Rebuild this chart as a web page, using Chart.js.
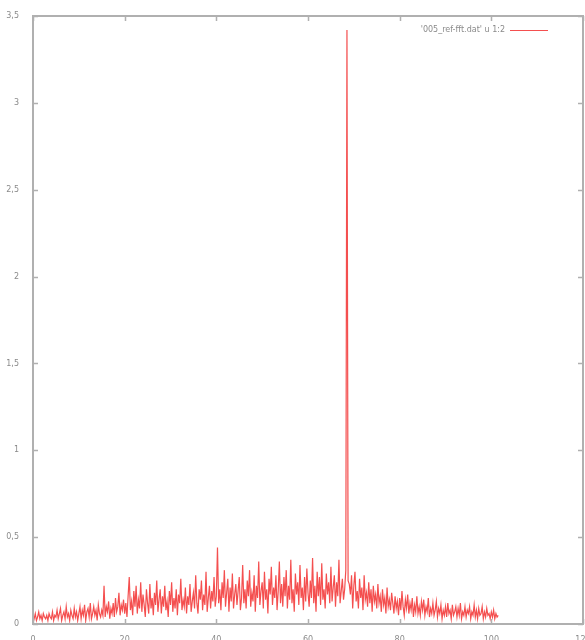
<!DOCTYPE html>
<html>
<head>
<meta charset="utf-8">
<script src="https://cdn.jsdelivr.net/npm/chart.js@4/dist/chart.umd.min.js"></script>
<style>
  html, body { margin: 0; padding: 0; background: #fff; }
  #wrap { width: 585px; height: 640px; }
</style>
</head>
<body>
<div id="wrap"><canvas id="plot" width="585" height="640"></canvas></div>
<script>
const SERIES_LABEL = "'005_ref-fft.dat' u 1:2";
const X_START = 0;
const X_STEP = 0.25;
const X_TICKS = [0, 20, 40, 60, 80, 100, 120];
const Y_TICKS = ['0', '0,5', '1', '1,5', '2', '2,5', '3', '3,5'];

// one row per 5 units of x
const Y_VALUES = [
  0.05,0.03,0.06,0.02,0.04,0.07,0.03,0.05,0.02,0.06,0.04,0.03,0.05,0.02,0.06,0.04,0.03,0.07,0.02,0.05,
  0.04,0.08,0.03,0.06,0.09,0.02,0.05,0.07,0.03,0.1,0.04,0.06,0.02,0.08,0.05,0.03,0.09,0.04,0.07,0.02,
  0.06,0.1,0.03,0.08,0.05,0.11,0.02,0.07,0.09,0.04,0.12,0.03,0.06,0.1,0.05,0.08,0.02,0.11,0.06,0.04,
  0.08,0.05,0.22,0.04,0.1,0.07,0.13,0.03,0.09,0.06,0.12,0.04,0.15,0.07,0.1,0.18,0.05,0.11,0.08,0.14,
  0.06,0.12,0.04,0.16,0.27,0.08,0.13,0.05,0.19,0.1,0.22,0.06,0.14,0.09,0.24,0.07,0.17,0.11,0.04,0.2,
  0.12,0.06,0.23,0.09,0.15,0.05,0.18,0.11,0.25,0.07,0.14,0.2,0.06,0.16,0.1,0.22,0.08,0.13,0.04,0.19,
  0.11,0.24,0.07,0.15,0.09,0.2,0.05,0.17,0.12,0.26,0.08,0.14,0.1,0.21,0.06,0.16,0.11,0.23,0.07,0.13,
  0.18,0.09,0.28,0.12,0.06,0.2,0.14,0.25,0.08,0.17,0.11,0.3,0.07,0.15,0.22,0.09,0.19,0.13,0.27,0.1,
  0.16,0.44,0.12,0.2,0.08,0.24,0.15,0.31,0.1,0.18,0.26,0.07,0.21,0.13,0.29,0.09,0.17,0.23,0.11,0.19,
  0.27,0.08,0.15,0.34,0.12,0.2,0.09,0.25,0.16,0.31,0.1,0.18,0.13,0.28,0.07,0.22,0.15,0.36,0.11,0.19,
  0.24,0.09,0.3,0.14,0.2,0.06,0.26,0.17,0.33,0.11,0.21,0.15,0.28,0.08,0.19,0.36,0.12,0.23,0.1,0.27,
  0.16,0.31,0.09,0.22,0.14,0.37,0.12,0.2,0.07,0.29,0.17,0.24,0.11,0.34,0.15,0.21,0.08,0.27,0.13,0.32,
  0.18,0.1,0.25,0.15,0.38,0.12,0.22,0.07,0.3,0.16,0.27,0.11,0.35,0.14,0.2,0.09,0.29,0.17,0.24,0.12,
  0.33,0.13,0.21,0.28,0.1,0.24,0.16,0.37,0.12,0.19,0.26,0.14,0.2,0.31,3.42,0.25,0.23,0.17,0.28,0.09,
  0.22,0.3,0.13,0.19,0.09,0.26,0.15,0.21,0.08,0.28,0.14,0.18,0.1,0.24,0.12,0.2,0.07,0.22,0.13,0.17,
  0.09,0.23,0.12,0.16,0.07,0.2,0.11,0.15,0.06,0.21,0.1,0.14,0.08,0.18,0.12,0.06,0.16,0.09,0.13,0.05,
  0.15,0.08,0.19,0.1,0.05,0.14,0.09,0.17,0.06,0.12,0.08,0.15,0.04,0.11,0.07,0.16,0.06,0.1,0.05,0.13,
  0.08,0.14,0.05,0.1,0.07,0.15,0.04,0.09,0.06,0.12,0.05,0.08,0.13,0.04,0.09,0.06,0.11,0.03,0.08,0.05,
  0.1,0.04,0.12,0.06,0.08,0.03,0.11,0.05,0.07,0.1,0.04,0.09,0.05,0.12,0.03,0.07,0.05,0.1,0.04,0.08,
  0.06,0.1,0.03,0.07,0.05,0.11,0.04,0.08,0.03,0.09,0.05,0.06,0.1,0.03,0.07,0.04,0.09,0.05,0.06,0.03,
  0.07,0.04,0.08,0.03,0.06,0.04,0.05
];

const LINE_COLOR = 'rgba(240,20,20,0.75)';
const FRAME_COLOR = '#b0b0b0';
const TEXT_COLOR = '#8a8a8a';

var points = Y_VALUES.map(function(v, i) {
  return {x: X_START + i * X_STEP, y: v};
});

// gnuplot style frame, mirrored inward ticks and the key
var gnuFrame = {
  id: 'gnuFrame',
  afterDraw: function(chart) {
    var ctx = chart.ctx;
    var a = chart.chartArea;
    var xs = chart.scales.x, ys = chart.scales.y;
    ctx.save();
    ctx.strokeStyle = FRAME_COLOR;
    ctx.lineWidth = 2;
    ctx.strokeRect(a.left, a.top, a.right - a.left, a.bottom - a.top);
    ctx.lineWidth = 1.5;
    ctx.beginPath();
    X_TICKS.forEach(function(t) {
      var px = Math.round(xs.getPixelForValue(t)) + 0.5;
      ctx.moveTo(px, a.bottom); ctx.lineTo(px, a.bottom - 5);
      ctx.moveTo(px, a.top); ctx.lineTo(px, a.top + 5);
    });
    for (var i = 0; i < Y_TICKS.length; i++) {
      var py = Math.round(ys.getPixelForValue(i * 0.5)) + 0.5;
      ctx.moveTo(a.left, py); ctx.lineTo(a.left + 5, py);
      ctx.moveTo(a.right, py); ctx.lineTo(a.right - 5, py);
    }
    ctx.stroke();

    // key
    var ky = a.top + 14;
    ctx.font = '8px "DejaVu Sans", sans-serif';
    ctx.fillStyle = TEXT_COLOR;
    ctx.textAlign = 'right';
    ctx.textBaseline = 'middle';
    ctx.fillText(SERIES_LABEL, a.right - 78, ky);
    ctx.strokeStyle = LINE_COLOR;
    ctx.lineWidth = 1;
    ctx.beginPath();
    ctx.moveTo(a.right - 73, ky + 0.5);
    ctx.lineTo(a.right - 35, ky + 0.5);
    ctx.stroke();
    ctx.restore();
  }
};

var config = {
  type: 'line',
  data: {
    datasets: [{
      label: SERIES_LABEL,
      data: points,
      borderColor: LINE_COLOR,
      borderWidth: 1.2,
      pointRadius: 0,
      fill: false,
      tension: 0
    }]
  },
  options: {
    responsive: false,
    animation: false,
    layout: { padding: { top: 16, right: 2, left: 0, bottom: 0 } },
    plugins: {
      legend: { display: false },
      tooltip: { enabled: false }
    },
    scales: {
      x: {
        type: 'linear',
        min: 0,
        max: 120,
        grid: { display: false },
        border: { display: false },
        afterBuildTicks: function(scale) {
          scale.ticks = X_TICKS.map(function(v) { return {value: v}; });
        },
        ticks: {
          color: TEXT_COLOR,
          font: { family: 'DejaVu Sans', size: 8 },
          padding: 3,
          maxRotation: 0,
          autoSkip: false
        },
        afterFit: function(scale) {
          scale.height = 16;
          scale.paddingLeft = 0;
          scale.paddingRight = 0;
        }
      },
      y: {
        type: 'linear',
        min: 0,
        max: 3.5,
        grid: { display: false },
        border: { display: false },
        ticks: {
          stepSize: 0.5,
          color: TEXT_COLOR,
          font: { family: 'DejaVu Sans', size: 8 },
          padding: 6,
          callback: function(v) { return Y_TICKS[Math.round(v / 0.5)]; }
        },
        afterFit: function(scale) {
          scale.width = 33;
          scale.paddingTop = 0;
          scale.paddingBottom = 0;
        }
      }
    }
  },
  plugins: [gnuFrame]
};

new Chart(document.getElementById('plot').getContext('2d'), config);
</script>
</body>
</html>
